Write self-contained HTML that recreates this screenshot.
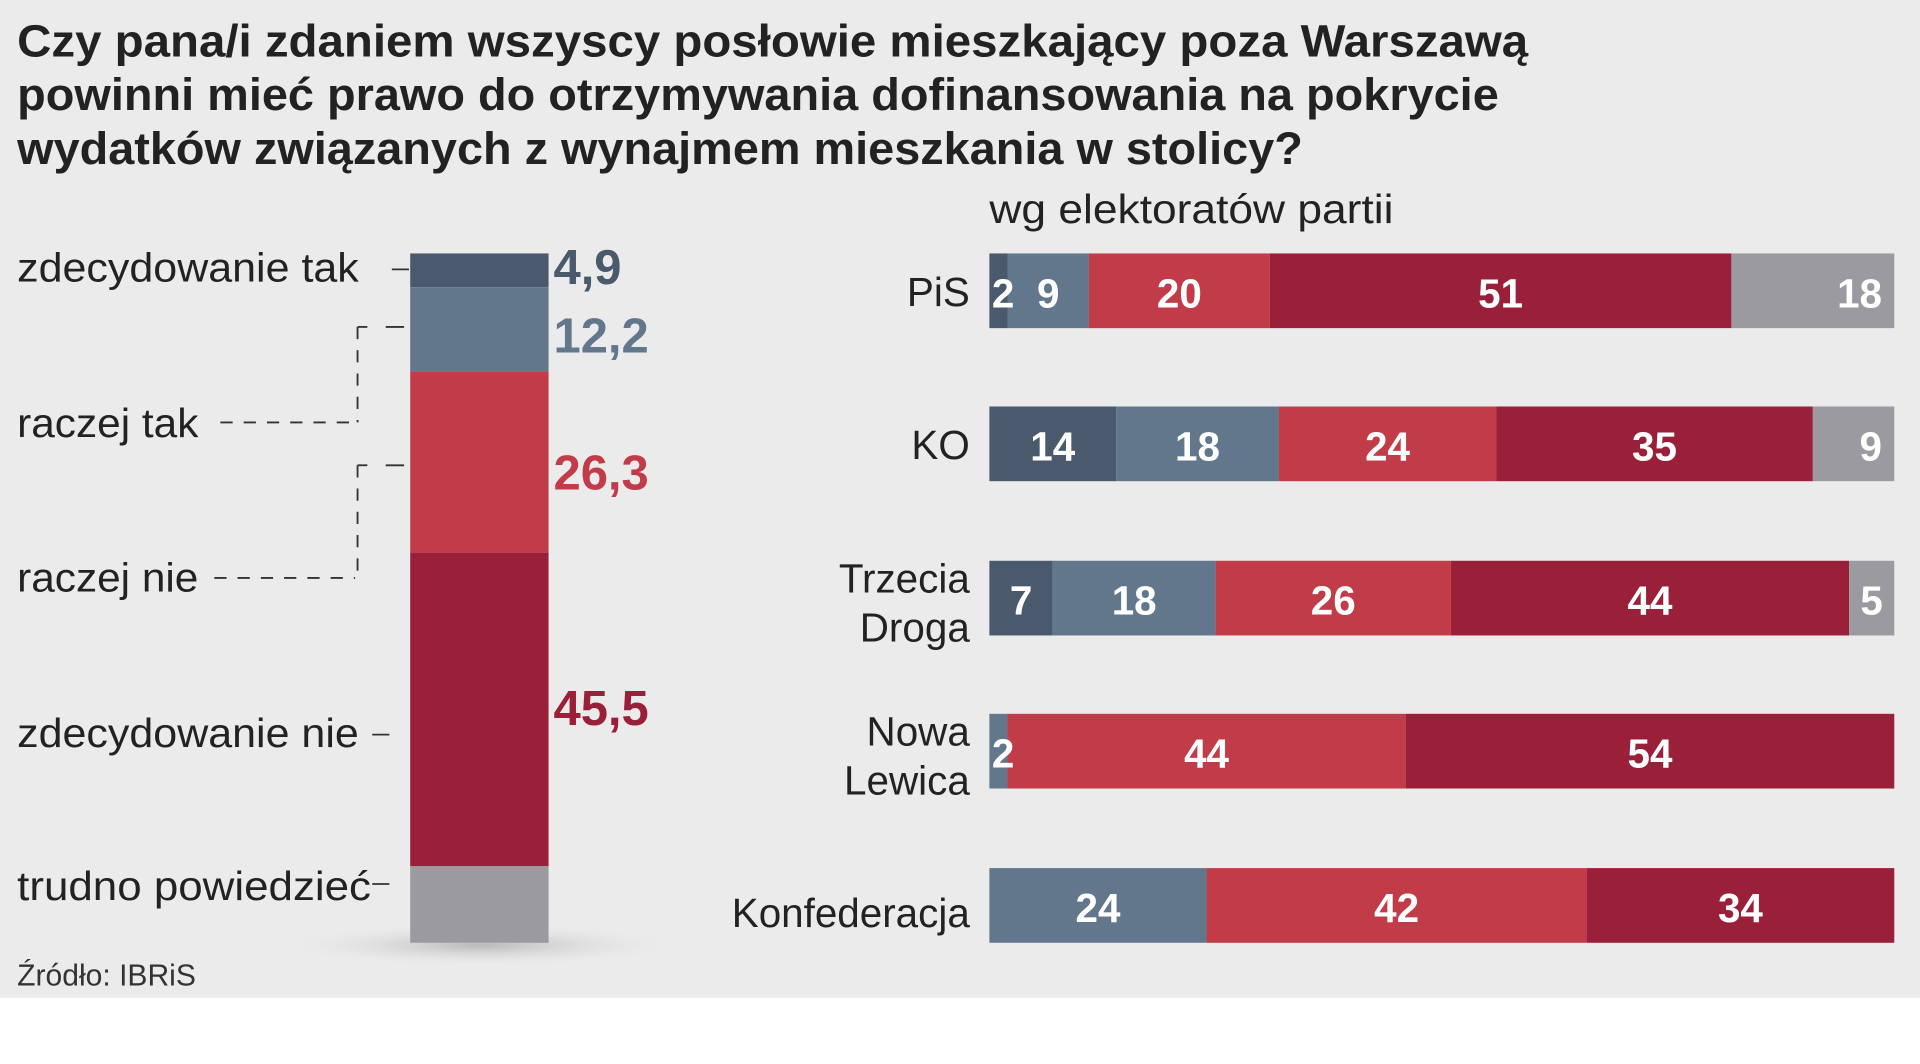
<!DOCTYPE html>
<html><head><meta charset="utf-8"><style>
html,body{margin:0;padding:0;background:#fff;}
svg{display:block;font-family:"Liberation Sans",sans-serif;}
</style></head><body>
<svg id="c" width="1920" height="1064" viewBox="0 0 1568 869" preserveAspectRatio="none">
<defs><radialGradient id="sh" cx="50%" cy="50%" r="50%"><stop offset="0" stop-color="#b8b8b8"/><stop offset="1" stop-color="#ebebeb" stop-opacity="0"/></radialGradient></defs>
<rect x="0" y="0" width="1568" height="815" fill="#ebebeb"/>
<g font-weight="bold" font-size="37" fill="#222">
<text x="14" y="46" textLength="1234" lengthAdjust="spacingAndGlyphs">Czy pana/i zdaniem wszyscy posłowie mieszkający poza Warszawą</text>
<text x="14" y="90" textLength="1210" lengthAdjust="spacingAndGlyphs">powinni mieć prawo do otrzymywania dofinansowania na pokrycie</text>
<text x="14" y="134" textLength="1050" lengthAdjust="spacingAndGlyphs">wydatków związanych z wynajmem mieszkania w stolicy?</text>
</g>
<text x="808" y="182" font-size="33" fill="#222" textLength="330" lengthAdjust="spacingAndGlyphs">wg elektoratów partii</text>
<ellipse cx="392" cy="772" rx="165" ry="18" fill="url(#sh)"/>
<g id="left"></g>
<g stroke="#333" stroke-width="1.5" fill="none">
<line x1="320" y1="220" x2="334" y2="220"/>
<line x1="180" y1="345" x2="290" y2="345" stroke-dasharray="10,9"/>
<line x1="292" y1="267" x2="292" y2="345" stroke-dasharray="10,9"/>
<line x1="292" y1="267" x2="300" y2="267"/><line x1="315" y1="267" x2="330" y2="267"/>
<line x1="175" y1="472" x2="290" y2="472" stroke-dasharray="10,9"/>
<line x1="292" y1="380" x2="292" y2="472" stroke-dasharray="10,9"/>
<line x1="292" y1="380" x2="300" y2="380"/><line x1="315" y1="380" x2="330" y2="380"/>
<line x1="304" y1="600" x2="318" y2="600"/>
<line x1="304" y1="722" x2="318" y2="722"/>
</g>
<text x="14" y="805" font-size="25" fill="#333" textLength="146" lengthAdjust="spacingAndGlyphs">Źródło: IBRiS</text>
<g id="right"></g>
<g id="rlabels"></g>
</svg>
<script>
const categories = ["zdecydowanie tak","raczej tak","raczej nie","zdecydowanie nie","trudno powiedzieć"];
const totals = [4.9, 12.2, 26.3, 45.5, 11.1];
const totalLabels = ["4,9","12,2","26,3","45,5",""];
const parties = [["PiS"],["KO"],["Trzecia","Droga"],["Nowa","Lewica"],["Konfederacja"]];
const zdecTak = [2, 14, 7, 0, 0];
const raczejTak = [9, 18, 18, 2, 24];
const raczejNie = [20, 24, 26, 44, 42];
const zdecNie = [51, 35, 44, 54, 34];
const trudno = [18, 9, 5, 0, 0];

const NS="http://www.w3.org/2000/svg";
const colors=["#4a5a6c","#62778c","#c13c48","#9a2039","#9b9aa0"];
function mk(tag,attrs,parent){const e=document.createElementNS(NS,tag);for(const k in attrs)e.setAttribute(k,attrs[k]);parent.appendChild(e);return e;}
const L=document.getElementById('left'), R=document.getElementById('right'), RL=document.getElementById('rlabels');
const lTop=207, lBot=770, lX=335, lW=113;
const sumT=totals.reduce((a,b)=>a+b,0);
const yL=v=>lTop+v/sumT*(lBot-lTop);
const catY=[230,357,483,610,735], catW=[279,148,148,279,289];
const labY=[232,288,400,592,0];
let acc=0;
totals.forEach((v,i)=>{
  const r=mk('rect',{x:lX,y:yL(acc),width:lW,height:yL(acc+v)-yL(acc),fill:colors[i]},L);
  
  
  if(totalLabels[i]){
    const mid=(yL(acc)+yL(acc+v))/2;
    const t=mk('text',{x:452,y:labY[i]||mid,'font-size':40,'font-weight':'bold',fill:colors[i]},L);
    t.textContent=totalLabels[i];
    
    
  }
  const c=mk('text',{x:14,y:catY[i],'font-size':33,fill:'#222',textLength:catW[i],lengthAdjust:'spacingAndGlyphs'},L);
  c.textContent=categories[i];
  
  
  acc+=v;
});
const rX0=808, rX1=1547, rowTop=[207,332,458,583,709], rowH=61;
const series=[zdecTak,raczejTak,raczejNie,zdecNie,trudno];
parties.forEach((p,pi)=>{
  const tot=series.reduce((a,s)=>a+s[pi],0);
  const x=v=>rX0+v/tot*(rX1-rX0);
  let a=0;
  series.forEach((s,si)=>{
    const v=s[pi]; if(!v) return;
    const x0=x(a), x1=x(a+v);
    const r=mk('rect',{x:x0,y:rowTop[pi],width:x1-x0,height:rowH,fill:colors[si]},R);
    
    
    const w=x1-x0;
    let tx, anchor='middle';
    if(w<30){tx=x0+2;anchor='start';}
    else if(si===4 && w>50){tx=x1-10;anchor='end';}
    else tx=(x0+x1)/2;
    const t=mk('text',{x:tx,y:rowTop[pi]+44,'text-anchor':anchor,'font-size':33,'font-weight':'bold',fill:'#fff'},RL);
    t.textContent=v;
    
    
    a+=v;
  });
  p.forEach((ln,li)=>{
    const y = p.length===1 ? rowTop[pi]+(pi===4?48:43) : rowTop[pi]+26+li*40;
    const t=mk('text',{x:792,y:y,'text-anchor':'end','font-size':33,fill:'#222'},R);
    t.textContent=ln;
    
    
  });
});
</script>
</body></html>
